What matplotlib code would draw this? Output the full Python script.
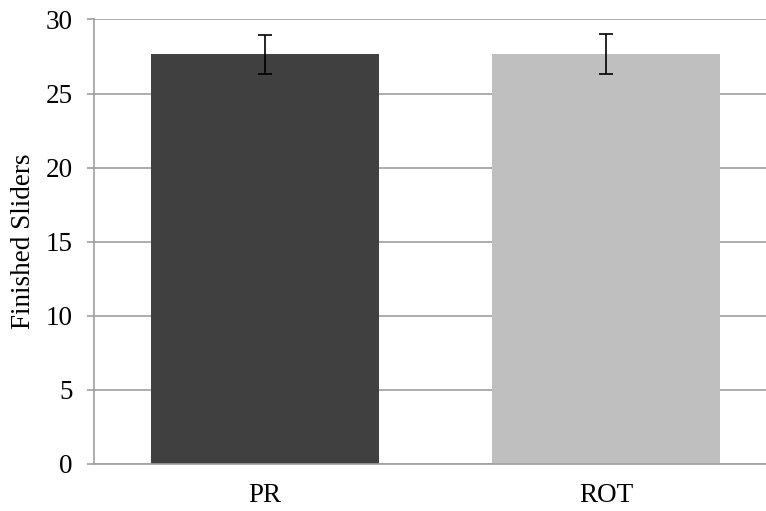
import matplotlib.pyplot as plt

plt.rcParams["font.family"] = ["Liberation Serif", "DejaVu Serif"]

categories = ["PR", "ROT"]
means = [27.65, 27.67]
errors = [1.3, 1.33]
colors = ["#404040", "#bfbfbf"]

fig = plt.figure(figsize=(7.66, 5.11), dpi=100)
ax = fig.add_axes([0.1227, 0.092, 0.8917, 0.870])

grid_col = "#a0a0a0"
ax.bar(range(len(categories)), means, width=0.668, color=colors, zorder=2)
ax.errorbar(range(len(categories)), means, yerr=errors, fmt="none",
            ecolor="black", elinewidth=1.2, capsize=5, capthick=1.2, zorder=3)

ax.set_xlim(-0.5, 1.5)
ax.set_ylim(0, 30)
ax.set_yticks(range(0, 31, 5))
ax.set_xticks(range(len(categories)))
ax.set_xticklabels(categories)

ax.yaxis.grid(True, color=grid_col, linewidth=1.2, zorder=0)
ax.set_axisbelow(True)
for s in ["top", "right"]:
    ax.spines[s].set_visible(False)
ax.spines["left"].set_color(grid_col)
ax.spines["left"].set_linewidth(1.2)
ax.spines["bottom"].set_color(grid_col)
ax.spines["bottom"].set_linewidth(1.2)

ax.tick_params(axis="y", length=5, width=1.2, color=grid_col, pad=10.5, labelsize=19.5)
ax.tick_params(axis="x", length=0, pad=13.5, labelsize=19.5)

ax.set_ylabel("Finished Sliders", fontsize=19.5, labelpad=7)

fig.savefig("out.png", dpi=100)
